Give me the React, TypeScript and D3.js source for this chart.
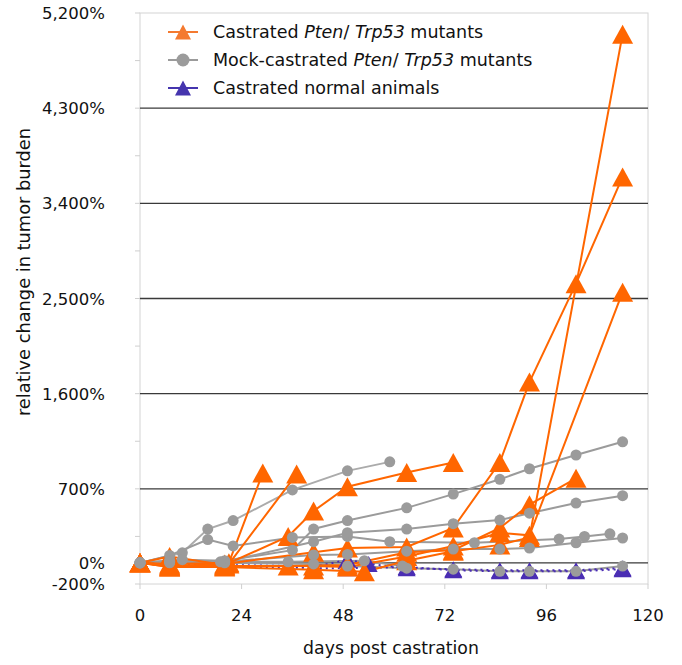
import React from "react";
import * as d3 from "d3";

// ---- data (days post castration, % change in tumor burden) ----
const castrated1 = [[0, 0], [7, -10], [21, 0], [29, 850]];
const castrated2 = [[0, 0], [7, -30], [21, -10], [37, 840]];
const castrated3 = [[0, 0], [7, 60], [20, -20], [35, 250], [41, 490], [49, 720], [63, 855], [74, 950]];
const castrated4 = [[0, 0], [7, -40], [20, -10], [41, 100], [49, 140], [63, 150], [74, 330], [85, 950], [92, 1710], [103, 2640], [114, 3650]];
const castrated5 = [[0, 0], [7, -40], [20, -40], [41, -65], [53, -85], [63, 20], [74, 110], [85, 170], [92, 240], [114, 5000]];
const castrated6 = [[0, 0], [7, -30], [20, -30], [41, -30], [49, -40], [63, 60], [74, 160], [85, 284], [92, 260], [114, 2560]];
const castrated7 = [[0, 0], [7, -20], [20, -30], [35, -30], [49, -20], [63, 100], [74, 120], [85, 330], [92, 550], [103, 800]];

const mock1 = [[0, 0], [10, 95], [16, 320], [22, 400], [36, 690], [49, 870], [59, 955]];
const mock2 = [[0, 0], [7, 70], [16, 220], [22, 160], [36, 240], [49, 250], [59, 200], [79, 190], [99, 225], [105, 250], [111, 275]];
const mock3 = [[0, 0], [10, 30], [20, 20], [36, 120], [41, 320], [49, 400], [63, 520], [74, 650], [85, 790], [92, 890], [103, 1020], [114, 1145]];
const mock4 = [[0, 0], [7, 20], [20, 10], [41, 200], [49, 285], [63, 320], [74, 370], [85, 405], [92, 470], [103, 565], [114, 635]];
const mock5 = [[0, 0], [7, 10], [20, 10], [41, 75], [49, 80], [63, 110], [74, 130], [85, 130], [92, 140], [103, 190], [114, 235]];
const mock6 = [[0, 0], [7, 0], [20, 0], [41, -10], [49, -30], [63, -50], [74, -60], [85, -80], [92, -80], [103, -80], [114, -30]];
const mock7 = [[0, 0], [7, 10], [19, 10], [35, 10], [53, 20], [62, -30]];

const normal1 = [[0, 0], [7, -20], [20, -20], [35, -30], [41, -40], [49, 30], [54, -10], [63, -50], [74, -60], [85, -70], [92, -70], [103, -70], [114, -50]];
const normal2 = [[0, 0], [7, -30], [20, -30], [41, -50], [49, -50], [63, -40], [74, -70], [85, -80], [92, -80], [103, -80], [114, -60]];

const castratedSeries = [castrated1, castrated2, castrated3, castrated4, castrated5, castrated6, castrated7];
const mockSeries = [mock1, mock2, mock3, mock4, mock5, mock6, mock7];
const normalSeries = [normal1, normal2];

const xTicks = [0, 24, 48, 72, 96, 120];
const yMajor = [-200, 700, 1600, 2500, 3400, 4300, 5200];
const yMinor = [250, 1150, 2050, 2950, 3850, 4750];
const gridValues = [0, 700, 1600, 2500, 3400, 4300];

const legendItems = [
  { key: "castrated", parts: [["Castrated ", false], ["Pten", true], ["/ ", false], ["Trp53", true], [" mutants", false]] },
  { key: "mock", parts: [["Mock-castrated ", false], ["Pten", true], ["/ ", false], ["Trp53", true], [" mutants", false]] },
  { key: "normal", parts: [["Castrated normal animals", false]] },
];

const ORANGE = "#ff6600";
const GRAY = "#9b9b9b";
const BLUE = "#4a2db3";
const FONT = "DejaVu Sans, Verdana, sans-serif";

const L = 140, R = 648, T = 13, B = 584;

function tri(cx: number, cy: number, w: number, h: number) {
  return `M${cx},${cy - h / 2}L${cx + w / 2},${cy + h / 2}L${cx - w / 2},${cy + h / 2}Z`;
}

export default function App() {
  const x = d3.scaleLinear().domain([0, 120]).range([L, R]);
  const y = d3.scaleLinear().domain([-200, 5200]).range([B, T]);
  const line = d3
    .line<number[]>()
    .x((d) => x(d[0]))
    .y((d) => y(d[1]));
  const fmt = (v: number) => d3.format(",")(v).replace("\u2212", "-") + "%";

  return (
    <svg
      width={682}
      height={665}
      style={{ position: "absolute", left: 0, top: 0, background: "#fff" }}
      fontFamily={FONT}
    >
      <rect x={0} y={0} width={682} height={665} fill="#fff" />
      {/* frame */}
      <rect x={L} y={T} width={R - L} height={B - T} fill="none" stroke="#d4d4d4" strokeWidth={1} />
      {/* gridlines */}
      {gridValues.map((v) => (
        <line key={v} x1={L} x2={R} y1={y(v)} y2={y(v)} stroke="#3a3a3a" strokeWidth={1.3} />
      ))}
      {/* y ticks */}
      {yMajor.concat(yMinor).map((v) => (
        <line key={"yt" + v} x1={L - 5} x2={L} y1={y(v)} y2={y(v)} stroke="#cfcfcf" strokeWidth={1} />
      ))}
      {yMajor.map((v) => (
        <text key={"yl" + v} x={105} y={y(v) + 6} textAnchor="end" fontSize={16.5} fill="#111">
          {fmt(v)}
        </text>
      ))}
      <text x={105} y={y(0) + 6} textAnchor="end" fontSize={16.5} fill="#111">0%</text>
      {/* x ticks */}
      {xTicks.map((t) => (
        <g key={"xt" + t}>
          <line x1={x(t)} x2={x(t)} y1={B} y2={B + 5} stroke="#cfcfcf" strokeWidth={1} />
          <text x={x(t)} y={621} textAnchor="middle" fontSize={16.5} fill="#111">{t}</text>
        </g>
      ))}
      {/* axis titles */}
      <text x={391} y={654} textAnchor="middle" fontSize={17.3} fill="#111">days post castration</text>
      <text
        transform={`translate(30,272) rotate(-90)`}
        textAnchor="middle"
        fontSize={17.8}
        fill="#111"
      >
        relative change in tumor burden
      </text>

      {/* lines */}
      {mockSeries.map((s, i) => (
        <path key={"ml" + i} d={line(s) || ""} fill="none" stroke={i === 0 ? "#ababab" : GRAY} strokeWidth={2} />
      ))}
      {normalSeries.map((s, i) => (
        <path key={"nl" + i} d={line(s) || ""} fill="none" stroke={BLUE} strokeWidth={2} strokeDasharray="2,4" />
      ))}
      {castratedSeries.map((s, i) => (
        <path key={"cl" + i} d={line(s) || ""} fill="none" stroke={ORANGE} strokeWidth={2} />
      ))}

      {/* markers */}
      {normalSeries.map((s, i) =>
        s.map((d, j) => <path key={"nm" + i + "-" + j} d={tri(x(d[0]), y(d[1]), 18, 16)} fill={BLUE} />)
      )}
      {castratedSeries.map((s, i) =>
        s.map((d, j) => <path key={"cm" + i + "-" + j} d={tri(x(d[0]), y(d[1]), 21, 19)} fill={ORANGE} />)
      )}
      {mockSeries.map((s, i) =>
        s.map((d, j) => <circle key={"mm" + i + "-" + j} cx={x(d[0])} cy={y(d[1])} r={5.5} fill={GRAY} />)
      )}

      {/* legend */}
      {legendItems.map((item, i) => {
        const ly = 32 + i * 28;
        const col = item.key === "castrated" ? "#f47a30" : item.key === "mock" ? GRAY : "#4535ae";
        return (
          <g key={item.key}>
            <line x1={168} x2={198} y1={ly} y2={ly} stroke={col} strokeWidth={2} />
            {item.key === "mock" ? (
              <circle cx={183} cy={ly} r={6.5} fill={col} />
            ) : (
              <path d={tri(183, ly, 16, 15)} fill={col} />
            )}
            <text x={213} y={ly + 6} fontSize={17.5} fill="#111">
              {item.parts.map(([t, it], k) => (
                <tspan key={k} fontStyle={it ? "italic" : "normal"}>{t as string}</tspan>
              ))}
            </text>
          </g>
        );
      })}
    </svg>
  );
}
